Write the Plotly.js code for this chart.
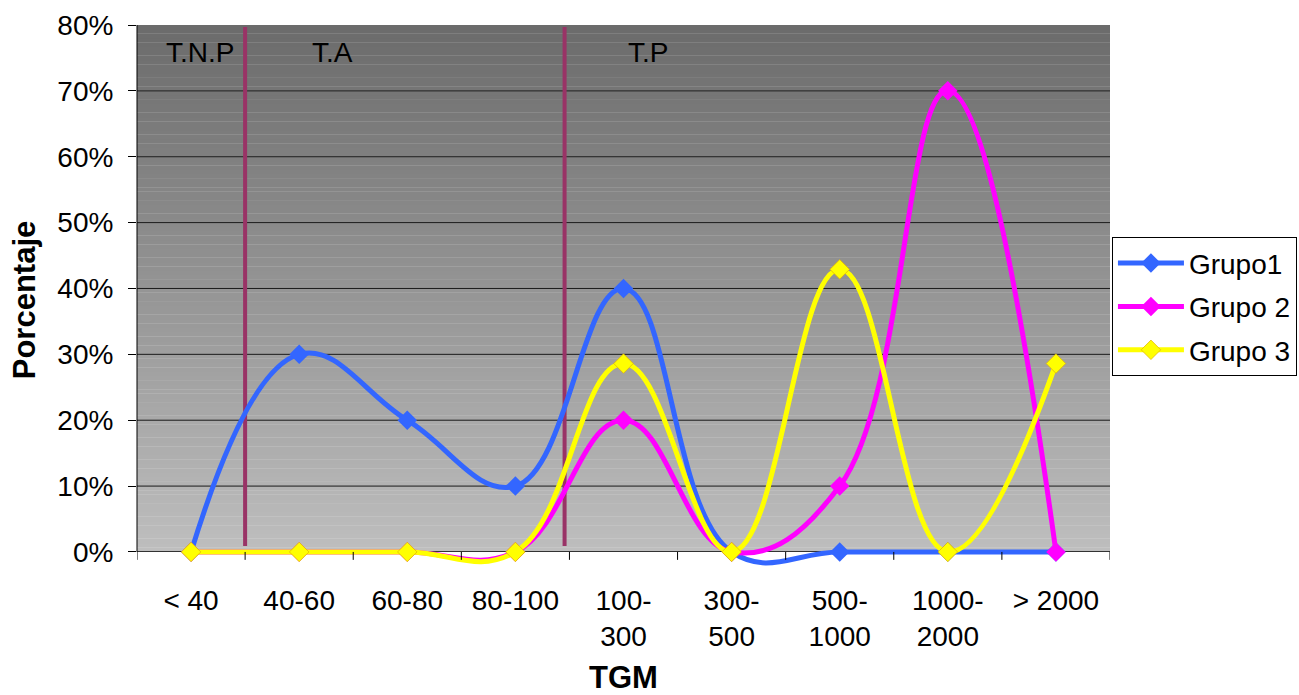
<!DOCTYPE html>
<html>
<head>
<meta charset="utf-8">
<script src="https://cdn.plot.ly/plotly-3.0.1.min.js"></script>
<style>html,body{margin:0;padding:0;background:#fff;}#chart{width:1299px;height:695px;}</style>
</head>
<body>
<div id="chart"></div>
<script>
// ---- data ----
const categories = ["< 40", "40-60", "60-80", "80-100", "100-300", "300-500", "500-1000", "1000-2000", "> 2000"];
const tickLabels = ["< 40", "40-60", "60-80", "80-100", "100-<br>300", "300-<br>500", "500-<br>1000", "1000-<br>2000", "> 2000"];
const grupo1 = [0, 0.30, 0.20, 0.10, 0.40, 0, 0, 0, 0];
const grupo2 = [0, 0, 0, 0, 0.20, 0, 0.10, 0.70, 0];
const grupo3 = [0, 0, 0, 0, 0.286, 0, 0.429, 0, 0.286];
const seriesNames = ["Grupo1", "Grupo 2", "Grupo 3"];
const yTicks = [0, 0.1, 0.2, 0.3, 0.4, 0.5, 0.6, 0.7, 0.8];
const zoneLabels = ["T.N.P", "T.A", "T.P"];

const FONT = "Liberation Sans, Arial, sans-serif";
const xIdx = categories.map((c, i) => i);

function trace(name, y, color, mline) {
  return {
    type: "scatter", mode: "lines+markers", name: name, legendgroup: name,
    x: xIdx, y: y,
    line: {color: color, width: 5, shape: "spline", smoothing: 1.2},
    marker: {symbol: "diamond", size: 15, color: color, line: mline || {width: 0}},
    cliponaxis: false
  };
}

const data = [
  trace(seriesNames[0], grupo1, "#3366FF"),
  trace(seriesNames[1], grupo2, "#FF00FF"),
  trace(seriesNames[2], grupo3, "#FFFF00", {width: 0.7, color: "#E0B000"})
];

const yMax = yTicks[yTicks.length - 1];
const shapes = [];
// gradient background (styling)
const N = 120;
for (let k = 0; k < N; k++) {
  const t = (k + 0.5) / N; // 0 bottom -> 1 top
  const v = Math.round(190 - (190 - 107) * t);
  shapes.push({type: "rect", layer: "below", xref: "paper", yref: "y",
    x0: 0, x1: 1, y0: yMax * k / N, y1: yMax * (k + 1) / N + 0.0005,
    fillcolor: `rgb(${v},${v},${v})`, line: {width: 0}});
}
// gridlines
yTicks.slice(1, -1).forEach(v => shapes.push({type: "line", layer: "below", xref: "paper", yref: "y",
  x0: 0, x1: 1, y0: v, y1: v, line: {color: "#1a1a1a", width: 1}}));
// y axis line
shapes.push({type: "line", xref: "paper", yref: "y", x0: 0, x1: 0, y0: 0, y1: yMax, line: {color: "#000", width: 1}});
// x tick marks at category boundaries
for (let i = 0; i <= categories.length; i++) {
  shapes.push({type: "line", xref: "x", yref: "y", x0: i - 0.5, x1: i - 0.5, y0: 0, y1: -0.012,
    line: {color: "#000", width: 1}});
}
// zone separators (drawn above gridlines, under the series)
[0.5, 3.455].forEach(xv => shapes.push({type: "line", layer: "between", xref: "x", yref: "y",
  x0: xv, x1: xv, y0: 0.009, y1: 0.797, line: {color: "#993366", width: 4}}));

const annotations = [
  {x: 0.083, y: 0.759, text: zoneLabels[0]},
  {x: 1.304, y: 0.759, text: zoneLabels[1]},
  {x: 4.227, y: 0.759, text: zoneLabels[2]}
].map(a => Object.assign(a, {xref: "x", yref: "y", showarrow: false, font: {family: FONT, size: 28, color: "#000"}}));

const layout = {
  width: 1299, height: 695,
  margin: {l: 137, r: 189, t: 25, b: 120, autoexpand: false},
  paper_bgcolor: "#fff", plot_bgcolor: "rgba(0,0,0,0)",
  font: {family: FONT, size: 28, color: "#000"},
  showlegend: true,
  legend: {x: 1.002, xanchor: "left", y: 0.614, yanchor: "top",
    bgcolor: "#fff", bordercolor: "#000", borderwidth: 1, itemwidth: 66,
    font: {family: FONT, size: 28, color: "#000"}, tracegroupgap: 4},
  xaxis: {
    range: [-0.5, categories.length - 0.5], tickvals: xIdx, ticktext: tickLabels,
    ticks: "", showgrid: false, zeroline: false, showline: false,
    tickfont: {family: FONT, size: 28, color: "#000"},
    ticklabelstandoff: 6,
    title: {text: "<b>TGM</b>", font: {family: FONT, size: 31, color: "#000"}, standoff: 36}
  },
  yaxis: {
    range: [-0.035, 0.8], tickvals: yTicks, tickformat: ".0%",
    ticks: "outside", ticklen: 8, tickcolor: "#000", tickwidth: 1,
    ticklabelstandoff: 9,
    showgrid: false, showline: false,
    zeroline: true, zerolinecolor: "#333", zerolinewidth: 1,
    tickfont: {family: FONT, size: 28, color: "#000"},
    title: {text: "<b>Porcentaje</b>", font: {family: FONT, size: 31, color: "#000"}, standoff: 12}
  },
  shapes: shapes,
  annotations: annotations
};

Plotly.newPlot("chart", data, layout, {displayModeBar: false, responsive: false});
</script>
</body>
</html>
